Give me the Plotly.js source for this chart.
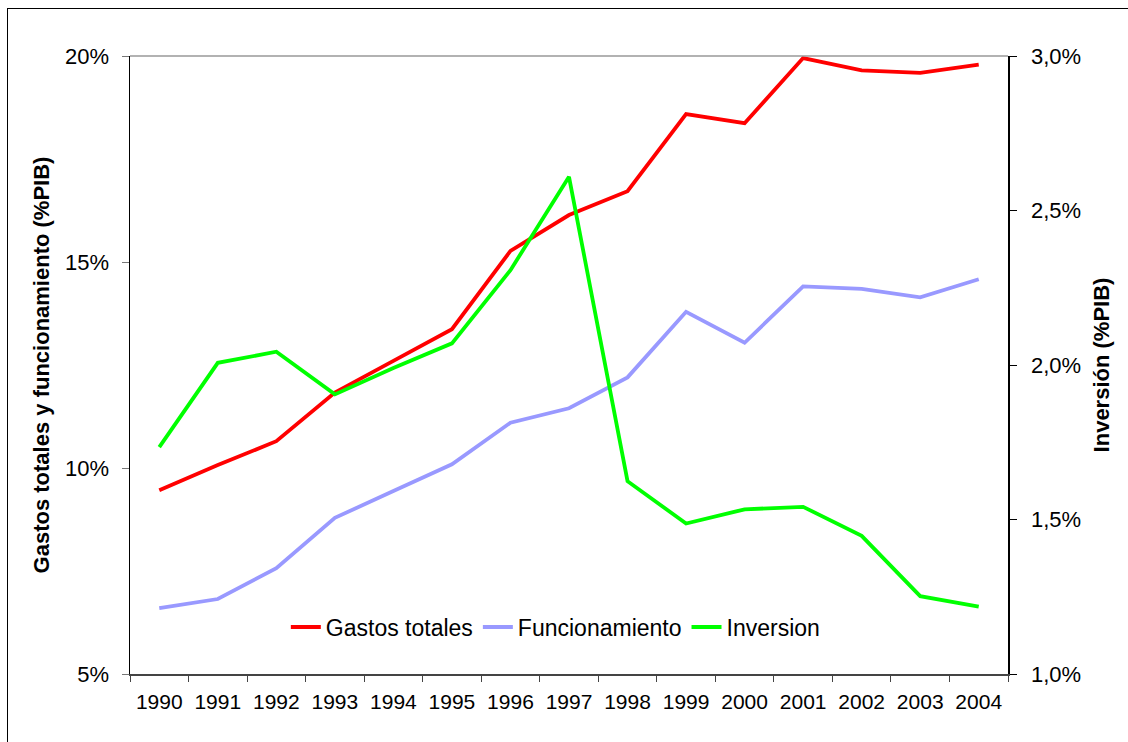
<!DOCTYPE html>
<html>
<head>
<meta charset="utf-8">
<script src="https://cdn.plot.ly/plotly-3.0.1.min.js"></script>
<style>
  html, body { margin: 0; padding: 0; background: #fff; }
  #wrap { position: relative; width: 1128px; height: 742px; }
  #chart { width: 1128px; height: 742px; }
  #frame { position: absolute; left: 7px; top: 8px; width: 1140px; height: 760px; border: 1px solid #000; pointer-events: none; }
</style>
</head>
<body>
<div id="wrap">
  <div id="chart"></div>
  <div id="frame"></div>
</div>
<script>
const years = ['1990','1991','1992','1993','1994','1995','1996','1997','1998','1999','2000','2001','2002','2003','2004'];
const gastosTotales = [9.46, 10.07, 10.65, 11.83, 12.6, 13.37, 15.27, 16.14, 16.72, 18.59, 18.37, 19.95, 19.65, 19.59, 19.79];
const funcionamiento = [6.6, 6.82, 7.57, 8.79, 9.44, 10.09, 11.1, 11.45, 12.2, 13.79, 13.04, 14.41, 14.35, 14.14, 14.58];
const inversion = [1.734, 2.007, 2.043, 1.905, 1.99, 2.07, 2.307, 2.609, 1.624, 1.487, 1.533, 1.541, 1.447, 1.252, 1.218];
const leftTicks = [5, 10, 15, 20];
const leftTickText = ['5%', '10%', '15%', '20%'];
const rightTicks = [1.0, 1.5, 2.0, 2.5, 3.0];
const rightTickText = ['1,0%', '1,5%', '2,0%', '2,5%', '3,0%'];

const font = 'Liberation Sans, Arial, sans-serif';

const traces = [
  { x: years, y: gastosTotales, name: 'Gastos totales', type: 'scatter', mode: 'lines',
    line: { color: '#ff0000', width: 3.8 }, yaxis: 'y' },
  { x: years, y: funcionamiento, name: 'Funcionamiento', type: 'scatter', mode: 'lines',
    line: { color: '#9999ff', width: 3.8 }, yaxis: 'y' },
  { x: years, y: inversion, name: 'Inversion', type: 'scatter', mode: 'lines',
    line: { color: '#00ff00', width: 3.8 }, yaxis: 'y2' }
];

const layout = {
  width: 1128, height: 742,
  margin: { l: 130, r: 120, t: 56, b: 68 },
  paper_bgcolor: '#fff', plot_bgcolor: '#fff',
  font: { family: font, size: 21, color: '#000' },
  showlegend: true,
  legend: { orientation: 'h', x: 0.485, xanchor: 'center', y: 0.076, yanchor: 'middle',
            font: { family: font, size: 23, color: '#000' }, bgcolor: 'rgba(0,0,0,0)', itemwidth: 30, tracegroupgap: 0 },
  xaxis: {
    type: 'category', range: [-0.5, 14.5], tickson: 'boundaries',
    ticks: 'outside', ticklen: 6, tickcolor: '#444', tickwidth: 1,
    showline: true, linecolor: '#444', linewidth: 1.5,
    showgrid: false, zeroline: false, ticklabelstandoff: 8,
    tickfont: { family: font, size: 21, color: '#000' }
  },
  yaxis: {
    range: [5, 20], tickvals: leftTicks, ticktext: leftTickText,
    ticks: 'outside', ticklen: 7, tickcolor: '#777', tickwidth: 1,
    showline: true, linecolor: '#000', linewidth: 1.5,
    showgrid: false, zeroline: false, ticklabelstandoff: 8,
    tickfont: { family: font, size: 22, color: '#000' },
    title: { text: 'Gastos totales y funcionamiento (%PIB)', standoff: 9,
             font: { family: font, size: 22, color: '#000', weight: 'bold' } }
  },
  yaxis2: {
    overlaying: 'y', side: 'right', range: [1.0, 3.0], tickvals: rightTicks, ticktext: rightTickText,
    ticks: 'outside', ticklen: 7, tickcolor: '#000', tickwidth: 1,
    showline: true, linecolor: '#000', linewidth: 1.5,
    showgrid: false, zeroline: false, ticklabelstandoff: 10,
    tickfont: { family: font, size: 22, color: '#000' },
    title: { text: 'Inversión (%PIB)', standoff: 13,
             font: { family: font, size: 22, color: '#000', weight: 'bold' } }
  },
  shapes: [
    { type: 'line', xref: 'paper', yref: 'paper', x0: 0, x1: 1, y0: 1, y1: 1,
      line: { color: '#999', width: 1.5 } }
  ]
};

Plotly.newPlot('chart', traces, layout, { displayModeBar: false, staticPlot: true });
</script>
</body>
</html>
